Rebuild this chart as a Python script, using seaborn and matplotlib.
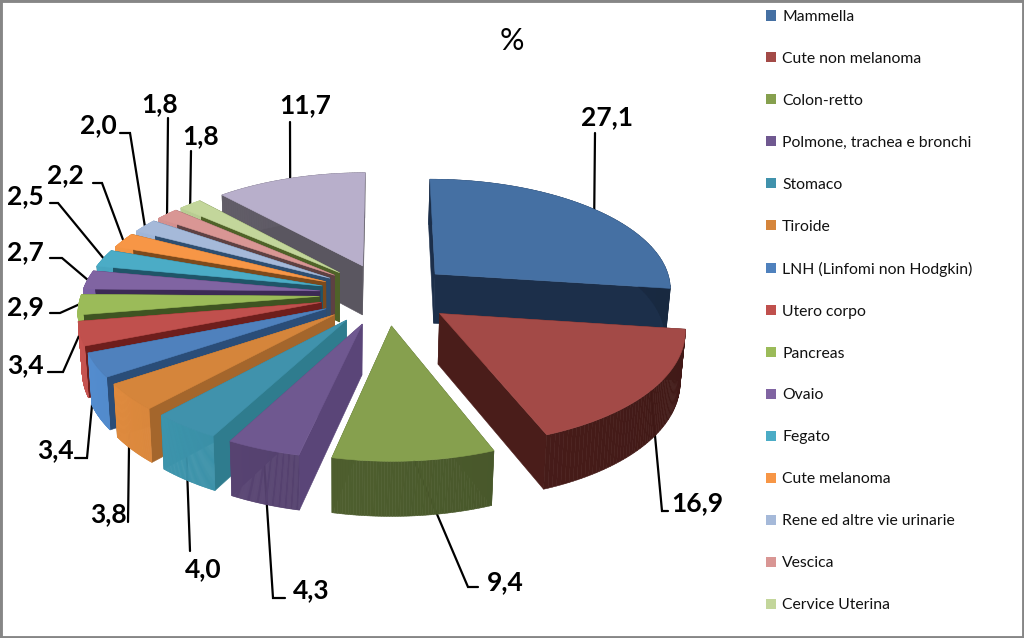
import numpy as np
import pandas as pd
import matplotlib
matplotlib.use("Agg")
import matplotlib.pyplot as plt
import seaborn as sns
from matplotlib.patches import Polygon, Patch, Rectangle
from matplotlib.colors import to_rgb

# --- data ---
sites = ['Mammella', 'Cute non melanoma', 'Colon-retto', 'Polmone, trachea e bronchi',
         'Stomaco', 'Tiroide', 'LNH (Linfomi non Hodgkin)', 'Utero corpo', 'Pancreas',
         'Ovaio', 'Fegato', 'Cute melanoma', 'Rene ed altre vie urinarie', 'Vescica',
         'Cervice Uterina', 'Altri']
values = [27.1, 16.9, 9.4, 4.3, 4.0, 3.8, 3.4, 3.4, 2.9, 2.7, 2.5, 2.2, 2.0, 1.8, 1.8, 11.7]

# --- colours: top face, cut face, outer wall ---
top_colors = ['#4570a3', '#a34a47', '#86a04e', '#6f5890', '#4092ac', '#d5853b', '#4f81bd', '#c0504d',
              '#9bbb59', '#8064a2', '#4bacc6', '#f79646', '#a5b9d9', '#d99694', '#c3d69b', '#b8afcb']
cut_colors = ['#1c2f4a', '#4a1d1a', '#4a5a2c', '#5a4578', '#2f7c8e', '#a4662c', '#2a4d78', '#6e1e1c',
              '#3f5422', '#3c2a55', '#1f5568', '#7c4a1c', '#2e4e70', '#5e4142', '#4f6228', '#5a5660']
rim_colors = ['#1c2f4a', '#4a1d1a', '#4c5c2d', '#523f6b', '#38899f', '#c97d38', '#4a7db8', '#b04a47',
              '#8aa84f', '#6d5590', '#3f93aa', '#d9843c', '#8fa3c2', '#c08382', '#a9bb86', '#5a5660']

# --- projection of the exploded disc onto the picture (pixels) ---
CX, CY, RX, RY = 386, 294, 238, 110.7
PERSP = 0.12
EXPLODE = 0.28


def project(theta, phi):
    u = EXPLODE * np.sin(phi) + theta[0] * np.sin(theta[1])
    v = EXPLODE * np.cos(phi) + theta[0] * np.cos(theta[1])
    p = 1 / (1 + PERSP * v)
    return CX + RX * u * p, CY - RY * v * p, v


def lower(x, y, v):
    return 340 + (x - 340) * 0.985, y + 50 - 4 * v


sns.set_theme(style='white')
plt.rcParams['font.family'] = ['Lato', 'DejaVu Sans']

df = pd.DataFrame({'site': sites, 'value': values})
edges = np.radians(np.concatenate([[0], df['value'].cumsum() / df['value'].sum() * 360]))

fig, ax = plt.subplots(figsize=(10.24, 6.38), dpi=100)
fig.subplots_adjust(0, 0, 1, 1)
ax.set_xlim(0, 1024)
ax.set_ylim(638, 0)
ax.axis('off')


def face(pts, color, z):
    ax.add_patch(Polygon(pts, closed=True, facecolor=color, edgecolor=color, lw=0.4, zorder=z))


# draw slices back to front
mids = (edges[:-1] + edges[1:]) / 2
order = np.argsort(-np.cos(mids))
z = 5
for i in order:
    t0, t1, phi = edges[i], edges[i + 1], mids[i]
    ts = np.linspace(t0, t1, 60)
    ax0, ay0, av0 = project((0, 0), phi)
    rx, ry, rv = project((1, ts), phi)
    bx0, by0 = lower(ax0, ay0, av0)
    brx, bry = lower(rx, ry, rv)
    # cut faces
    face([(ax0, ay0), (rx[0], ry[0]), (brx[0], bry[0]), (bx0, by0)], cut_colors[i], z)
    face([(ax0, ay0), (rx[-1], ry[-1]), (brx[-1], bry[-1]), (bx0, by0)], cut_colors[i], z)
    # outer wall, a little lighter towards the left
    base = np.array(to_rgb(rim_colors[i]))
    for k in range(len(ts) - 1):
        shade = np.clip(base * (1 - 0.13 * np.sin(ts[k])), 0, 1)
        face([(rx[k], ry[k]), (rx[k + 1], ry[k + 1]), (brx[k + 1], bry[k + 1]), (brx[k], bry[k])], shade, z)
    # top face
    face(np.vstack([[ax0, ay0], np.column_stack([rx, ry])]), top_colors[i], z)
    z += 1

# --- data labels with leader lines (label centre, then elbow points) ---
label_pos = [(607, 117), (697, 503), (505, 582), (311, 590), (203, 569), (108, 514), (55, 450), (25, 365),
             (25, 307), (25, 252), (25, 196), (65, 175), (98, 125), (160, 104), (201, 136), (305, 105)]
elbows = [[(595, 133)], [(668, 511), (662, 511)], [(478, 587), (468, 587)], [(285, 598), (273, 598)],
          [(190, 551)], [(128, 522)], [(75, 458), (87, 458)], [(48, 372), (63, 372)],
          [(50, 313), (60, 313)], [(50, 258), (62, 258)], [(50, 203), (58, 203)], [(93, 183), (102, 183)],
          [(120, 133), (130, 133)], [(168, 118)], [(191, 151)], [(290, 122)]]

for i, val in enumerate(values):
    mx, my, mv = project((1, mids[i]), mids[i])
    # front slices hang the line from the wall, so aim through the same rim point
    xs = [p[0] for p in elbows[i]] + [mx]
    ys = [p[1] for p in elbows[i]] + [my]
    ax.plot(xs, ys, color='black', lw=1.6, zorder=2, solid_joinstyle='miter')
    ax.text(*label_pos[i], f'{val:.1f}'.replace('.', ','), fontsize=19, fontweight='bold',
            ha='center', va='center', color='black')

ax.text(512, 41, '%', fontsize=22, ha='center', va='center', color='black')

# --- legend ---
handles = [Patch(facecolor=c, edgecolor='none') for c in top_colors]
leg = ax.legend(handles, sites, loc='upper left', bbox_to_anchor=(766, 10), bbox_transform=ax.transData,
                frameon=False, fontsize=11.3, labelspacing=1.78, handlelength=0.62, handleheight=0.62,
                handletextpad=0.4, borderpad=0, borderaxespad=0, labelcolor='#111111')

# chart frame
fig.add_artist(Rectangle((0, 0), 1, 1, transform=fig.transFigure, fill=False, edgecolor='#868686', lw=3.5))

fig.savefig('out.png', dpi=100)
